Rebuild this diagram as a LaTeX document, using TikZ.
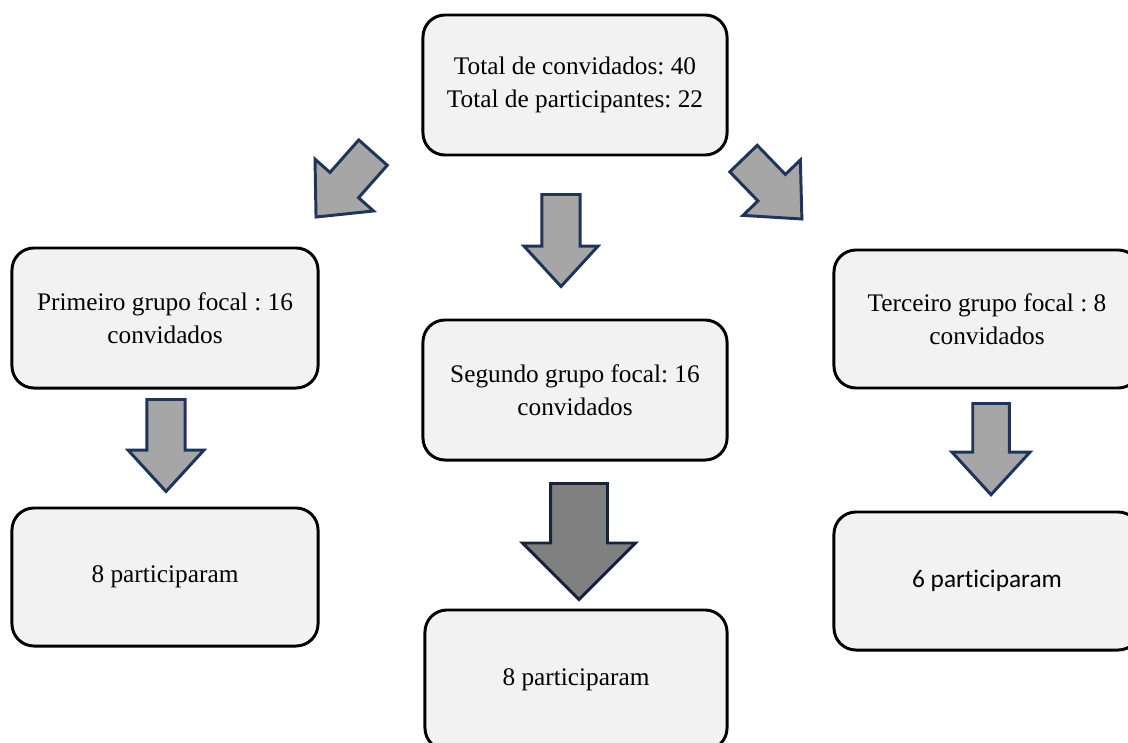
\documentclass[tikz,border=0pt]{standalone}
\usepackage{fontspec}
\setmainfont{Liberation Serif}
\newfontfamily\calibri[Ligatures=NoCommon]{Carlito}
\usepackage{tikz}
\usetikzlibrary{arrows.meta,positioning,shapes.arrows}
\definecolor{boxfill}{RGB}{242,242,242}
\definecolor{arrfill}{RGB}{166,166,166}
\definecolor{arrdark}{RGB}{128,128,128}
\definecolor{arrline}{RGB}{31,52,88}
\definecolor{arrlinedk}{RGB}{22,36,58}
\frenchspacing
\begin{document}
\begin{tikzpicture}[
  x=0.025cm, y=-0.025cm,
  font=\fontsize{18}{23.5}\selectfont,
  box/.style={draw, rectangle, rounded corners=0.55cm, fill=boxfill, minimum width=7.6cm, minimum height=3.5cm, align=center, line width=2.1pt},
  blk/.style={single arrow, draw=arrline, fill=arrfill, line width=2.1pt, inner sep=0.44cm, single arrow head extend=0.45cm, single arrow tip angle=85, anchor=tail},
]
\useasboundingbox (0,0) rectangle (1128,742);
% boxes
\node[box] (total) at (575,85) {Total de convidados: 40\\Total de participantes: 22};
\node[box, minimum width=7.65cm] (grupoA) at (165,318) {Primeiro grupo focal : 16\\convidados};
\node[box] (grupoB) at (575,390) {Segundo grupo focal: 16\\convidados};
\node[box, minimum width=7.65cm, minimum height=3.45cm] (grupoC) at (987,319) {Terceiro grupo focal : 8\\convidados};
\node[box, minimum width=7.65cm, minimum height=3.45cm] (partA) at (165,577) {8 participaram};
\node[box, minimum width=7.55cm] (partB) at (576,680) {8 participaram};
\node[box, minimum width=7.65cm, minimum height=3.45cm] (partC) at (987,581) {\calibri 6 participaram};
% block arrows
\node[blk, minimum height=2.15cm, single arrow head extend=0.5cm, rotate=228.5] (arrA) at (374,151.5) {};
\node[blk, minimum height=2.3cm, rotate=270] (arrB) at (561,193) {};
\node[blk, minimum height=2.1cm, single arrow head extend=0.52cm, rotate=314] (arrC) at (742.5,157.5) {};
\node[blk, minimum height=2.3cm, single arrow head extend=0.47cm, rotate=270] (arrA2) at (166,398) {};
\node[blk, minimum height=2.28cm, inner sep=0.42cm, single arrow head extend=0.52cm, rotate=270] (arrC2) at (991,402) {};
\node[blk, draw=arrlinedk, fill=arrdark, minimum height=2.9cm, inner sep=0.675cm, single arrow head extend=0.7cm, single arrow tip angle=90, rotate=270] (arrB2) at (579,482) {};
\end{tikzpicture}
\end{document}
